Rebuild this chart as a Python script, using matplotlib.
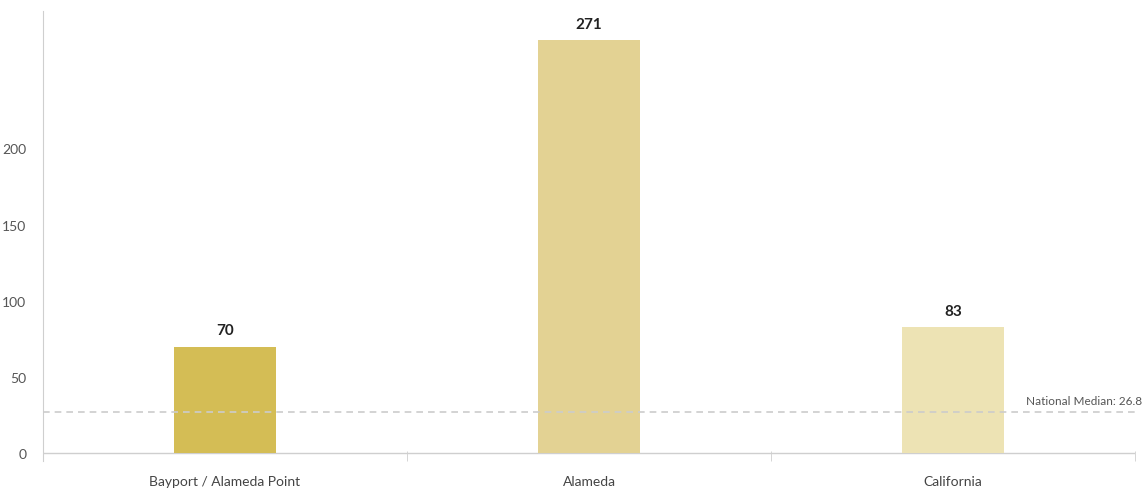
import matplotlib
matplotlib.use("Agg")
import matplotlib.pyplot as plt

# data
places = ["Bayport / Alameda Point", "Alameda", "California"]
values = [70, 271, 83]
bar_colors = ["#d4bd55", "#e3d293", "#ede3b4"]
national_median = 26.8
y_ticks = [0, 50, 100, 150, 200]

plt.rcParams["font.family"] = ["Lato", "DejaVu Sans"]

fig = plt.figure(figsize=(11.42, 4.89), dpi=100)
ax = fig.add_axes([0.0377, 0.0552, 0.9562, 0.9203])

x = range(len(places))
bars = ax.bar(x, values, width=0.28, color=bar_colors, zorder=2)

# value labels on top of each bar
for b, v in zip(bars, values):
    ax.text(b.get_x() + b.get_width() / 2, v + 6, str(v),
            ha="center", va="bottom", fontsize=11, fontweight="bold", color="#222222")

# national median reference line
ax.axhline(national_median, color="#cccccc", linestyle=(0, (4, 3)), linewidth=1.2, zorder=3)
ax.text(2.52, national_median + 4, f"National Median: {national_median}",
        ha="right", va="bottom", fontsize=8.5, color="#555555", clip_on=False)

# baseline at zero
ax.axhline(0, color="#cfcfcf", linewidth=1, zorder=1)

ax.set_xlim(-0.5, 2.5)
ax.set_ylim(-5, 290)
ax.set_yticks(y_ticks)
ax.set_xticks(list(x))
ax.set_xticklabels(places)
ax.set_xticks([0.5, 1.5, 2.5], minor=True)

ax.tick_params(axis="y", length=0, pad=12, labelsize=10, labelcolor="#555555")
ax.tick_params(axis="x", which="major", length=0, pad=10, labelsize=10, labelcolor="#444444")
ax.tick_params(axis="x", which="minor", length=7, direction="in", color="#cfcfcf")

for side in ["top", "right", "bottom"]:
    ax.spines[side].set_visible(False)
ax.spines["left"].set_color("#cfcfcf")

fig.savefig("out.png", dpi=100)
